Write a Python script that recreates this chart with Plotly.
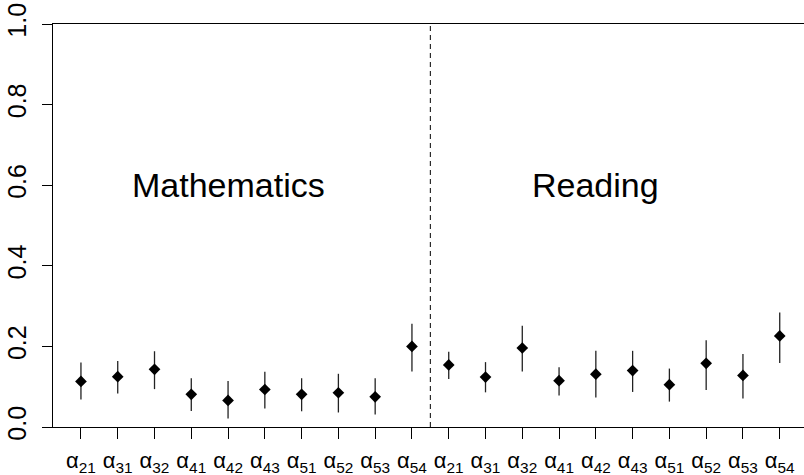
import plotly.graph_objects as go

# ---- data ----
subjects = ["Mathematics", "Reading"]
subject_label_x = [5, 15]
subject_label_y = [0.6, 0.6]
params = ["21", "31", "32", "41", "42", "43", "51", "52", "53", "54"]
math_est = [0.113, 0.125, 0.143, 0.081, 0.066, 0.093, 0.081, 0.085, 0.075, 0.200]
math_hi = [0.160, 0.164, 0.188, 0.121, 0.114, 0.137, 0.121, 0.132, 0.121, 0.256]
math_lo = [0.068, 0.083, 0.094, 0.040, 0.021, 0.046, 0.039, 0.036, 0.031, 0.138]
read_est = [0.154, 0.124, 0.196, 0.115, 0.131, 0.140, 0.105, 0.158, 0.128, 0.226]
read_hi = [0.187, 0.161, 0.251, 0.148, 0.189, 0.189, 0.145, 0.215, 0.181, 0.284]
read_lo = [0.119, 0.086, 0.138, 0.078, 0.073, 0.087, 0.063, 0.092, 0.071, 0.159]
y_ticks = [0.0, 0.2, 0.4, 0.6, 0.8, 1.0]
y_ticktext = ["0.0", "0.2", "0.4", "0.6", "0.8", "1.0"]

est = math_est + read_est
hi = math_hi + read_hi
lo = math_lo + read_lo
n = len(est)
xs = list(range(1, n + 1))
labels = ["α<sub>%s</sub>" % p for p in params] * 2

FONT = "Liberation Sans, Arial, Helvetica, sans-serif"

fig = go.Figure()
fig.add_trace(go.Scatter(
    x=xs, y=est, mode="markers",
    marker=dict(symbol="diamond", size=9, color="black", line=dict(width=0)),
    error_y=dict(type="data", symmetric=False,
                 array=[h - e for h, e in zip(hi, est)],
                 arrayminus=[e - l for e, l in zip(est, lo)],
                 width=0, thickness=1.3, color="#222"),
    showlegend=False, hoverinfo="skip",
))

sep = len(math_est) + 0.5
fig.add_shape(type="line", xref="x", yref="y", x0=sep, x1=sep, y0=0, y1=1,
              line=dict(color="black", width=1, dash="5px,4px"))

for name, cx, cy in zip(subjects, subject_label_x, subject_label_y):
    fig.add_annotation(x=cx, y=cy, xref="x", yref="y", text=name, showarrow=False,
                       font=dict(family=FONT, size=34, color="black"),
                       xanchor="center", yanchor="middle")

fig.update_layout(
    width=804, height=475,
    margin=dict(l=53, r=0, t=24, b=48),
    paper_bgcolor="white", plot_bgcolor="white",
    font=dict(family=FONT, color="black"),
)
fig.update_xaxes(
    range=[0.24, 20.66], tickmode="array", tickvals=xs, ticktext=labels,
    ticks="outside", ticklen=11, tickwidth=1, tickcolor="black",
    showline=True, linecolor="black", linewidth=1, mirror=True,
    showgrid=False, zeroline=False, ticklabelstandoff=3,
    tickfont=dict(family=FONT, size=22, color="black"),
)
fig.update_yaxes(
    range=[0, 1], tickmode="array", tickvals=y_ticks, ticktext=y_ticktext,
    ticks="outside", ticklen=10, tickwidth=1, tickcolor="black",
    showline=True, linecolor="black", linewidth=1, mirror=False,
    showgrid=False, zeroline=False, tickangle=-90, ticklabelstandoff=6,
    tickfont=dict(family=FONT, size=25, color="black"),
)

fig.write_html("out.html")
